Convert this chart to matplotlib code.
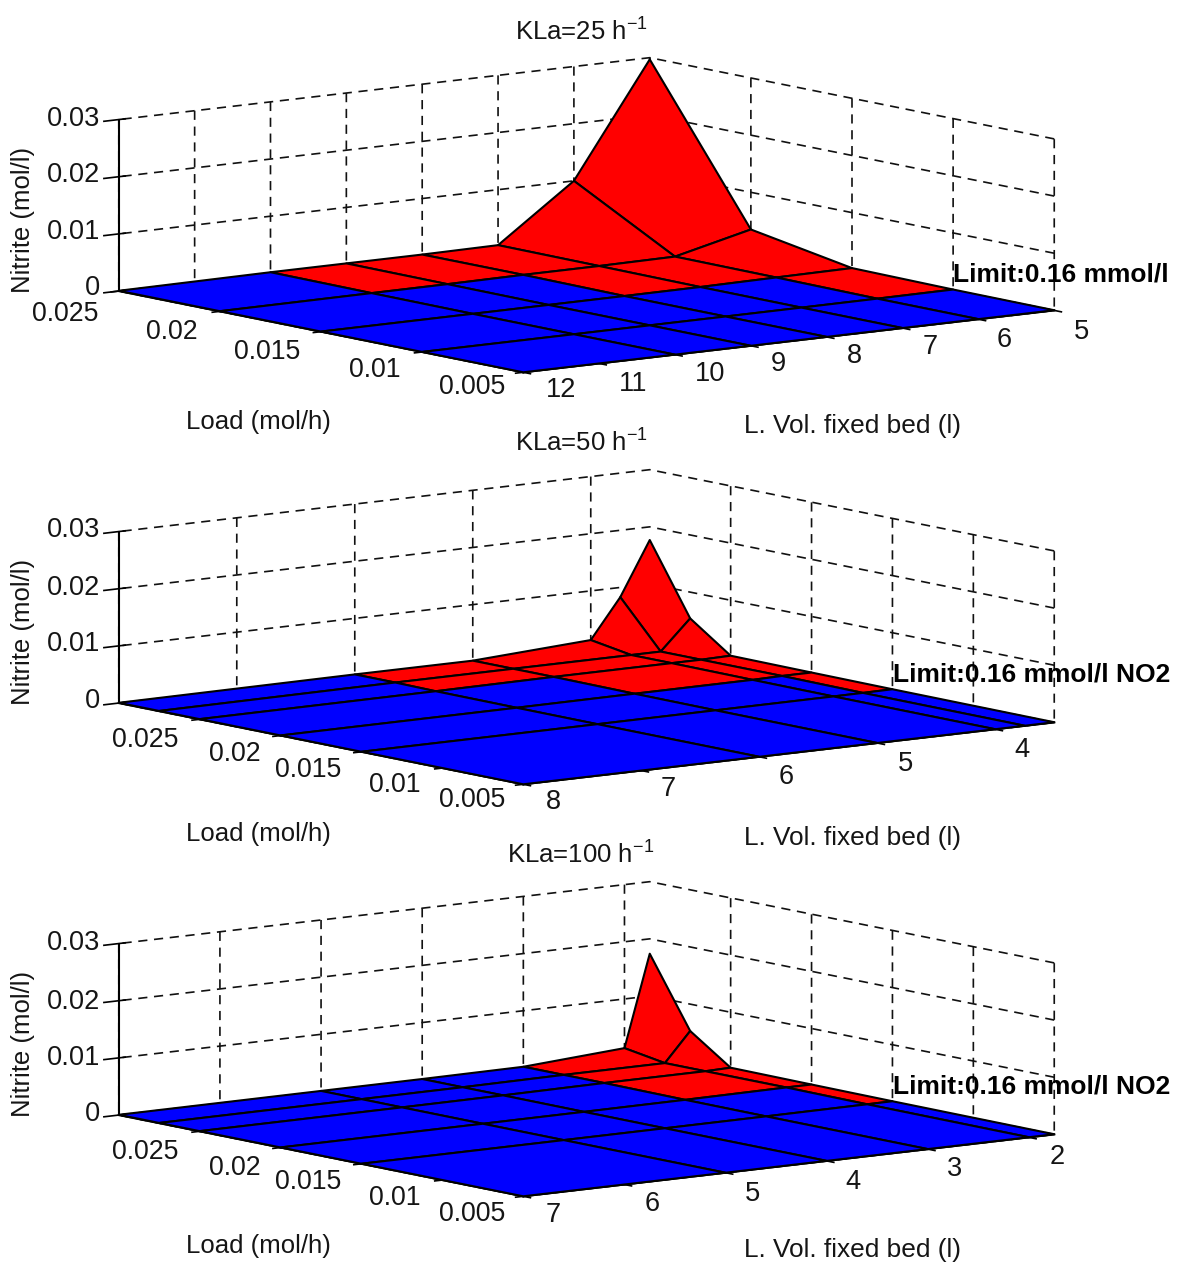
import numpy as np
import matplotlib
matplotlib.use("Agg")
import matplotlib.pyplot as plt

W = 1181
H = 1264
plt.rcParams['font.family'] = ['Liberation Sans', 'DejaVu Sans']
plt.rcParams['mathtext.default'] = 'regular'
plt.rcParams['grid.color'] = '#111111'
plt.rcParams['grid.linewidth'] = 1.2
plt.rcParams['grid.linestyle'] = (0, (5.5, 4))
plt.rcParams['axes.linewidth'] = 1.5
plt.rcParams['xtick.major.width'] = 1.2
plt.rcParams['ytick.major.width'] = 1.2

LIMIT = 0.00016   # 0.16 mmol/l
z_ticks = [0, 0.01, 0.02, 0.03]
z_labels = ['0', '0.01', '0.02', '0.03']
load_labels = ['0.025', '0.02', '0.015', '0.01', '0.005']
load_ticks = [0.025, 0.02, 0.015, 0.01, 0.005]

# KLa = 25
load_1 = [0.025, 0.02, 0.015, 0.01, 0.005]
vol_1 = [12, 10, 9, 8, 7, 6, 5]
nitrite_1 = [
    [0.00005, 0.0002, 0.0002, 0.0002, 0.0003, 0.0100, 0.0297],
    [0.00003, 0.0001, 0.00012, 0.0002, 0.0002, 0.0003, 0.0035],
    [0.00002, 0.00003, 0.00004, 0.00005, 0.00008, 0.0002, 0.0003],
    [0.00001, 0.00001, 0.00002, 0.00002, 0.00003, 0.00005, 0.0001],
    [0.0, 0.0, 0.0, 0.00001, 0.00001, 0.00002, 0.00003],
]
vol_ticks_1 = [12, 11, 10, 9, 8, 7, 6, 5]

# KLa = 50
load_2 = [0.03, 0.0275, 0.025, 0.02, 0.015, 0.005]
vol_2 = [8, 6, 5, 4, 3.75, 3.5]
nitrite_2 = [
    [0.00005, 0.0002, 0.0002, 0.0014, 0.0083, 0.0177],
    [0.00004, 0.0002, 0.0002, 0.0002, 0.0002, 0.0054],
    [0.00003, 0.0001, 0.0002, 0.0002, 0.0002, 0.0003],
    [0.00002, 0.00005, 0.0001, 0.00012, 0.0002, 0.0002],
    [0.00001, 0.00002, 0.00004, 0.00006, 0.00008, 0.00012],
    [0.0, 0.0, 0.00001, 0.00001, 0.00002, 0.00003],
]
vol_ticks_2 = [8, 7, 6, 5, 4]

# KLa = 100
load_3 = [0.03, 0.0275, 0.025, 0.02, 0.015, 0.005]
vol_3 = [7, 5, 4, 3, 2, 1.75]
nitrite_3 = [
    [0.00005, 0.0001, 0.00012, 0.0002, 0.0014, 0.0174],
    [0.00004, 0.00008, 0.0001, 0.0002, 0.0002, 0.0053],
    [0.00003, 0.00006, 0.0001, 0.0002, 0.0002, 0.0003],
    [0.00002, 0.00004, 0.00006, 0.0001, 0.0002, 0.0002],
    [0.00001, 0.00002, 0.00003, 0.00005, 0.0001, 0.00012],
    [0.0, 0.0, 0.00001, 0.00001, 0.00002, 0.00003],
]
vol_ticks_3 = [7, 6, 5, 4, 3, 2]

fig = plt.figure(figsize=(W / 100, H / 100), dpi=100)


def label(x, y, s, **kw):
    kw.setdefault('fontsize', 18.5)
    kw.setdefault('ha', 'center')
    kw.setdefault('va', 'center')
    kw.setdefault('color', '#151515')
    fig.text(x / W, 1 - (y + 2) / H, s, **kw)


def panel(cx, cy, load, vol, nitrite, vol_ticks, load_lim, vol_lim):
    S = 1172
    ax = fig.add_axes([(cx - 0.5135 * S) / W, (H - cy - 0.5135 * S) / H, S / W, S / H],
                      projection='3d')
    ax.set_proj_type('ortho')
    ax.view_init(elev=8.8, azim=142.7)
    ax.set_box_aspect((1, 1, 0.26), zoom=0.795)
    ax.patch.set_visible(False)
    for a in (ax.xaxis, ax.yaxis, ax.zaxis):
        a.pane.set_facecolor((1, 1, 1, 0))
        a.pane.set_edgecolor((1, 1, 1, 0))
    # short tick marks, the z axis sits on the left corner
    ax.xaxis._axinfo['tick'].update(inward_factor=0.18, outward_factor=0.0)
    ax.yaxis._axinfo['tick'].update(inward_factor=0.22, outward_factor=0.0)
    ax.zaxis._axinfo['tick'].update(inward_factor=0.35, outward_factor=0.15)
    ax.zaxis.set_ticks_position('upper')

    X, Y = np.meshgrid(load, vol, indexing='ij')
    Z = np.array(nitrite)
    colors = np.where(Z[..., None] > LIMIT, [1.0, 0.0, 0.0, 1.0], [0.0, 0.0, 1.0, 1.0])
    surf = ax.plot_surface(X, Y, Z, facecolors=colors, rstride=1, cstride=1,
                           shade=False, linewidth=1.5)
    surf.set_edgecolor('k')

    ax.set_xlim(*load_lim)
    ax.set_ylim(*vol_lim)
    ax.set_zlim(0, 0.03)
    ax.set_xticks(load_ticks)
    ax.set_yticks(vol_ticks)
    ax.set_zticks(z_ticks)
    ax.set_xticklabels([''] * len(load_ticks))
    ax.set_yticklabels([''] * len(vol_ticks))
    ax.set_zticklabels([''] * len(z_ticks))
    return ax


panel(586.5, 215, load_1, vol_1, nitrite_1, vol_ticks_1, (0.005, 0.025), (5, 12))
panel(586.5, 627, load_2, vol_2, nitrite_2, vol_ticks_2, (0.005, 0.03), (3.5, 8))
panel(586.5, 1039, load_3, vol_3, nitrite_3, vol_ticks_3, (0.005, 0.03), (1.75, 7))

# titles
label(581, 30, 'KLa=25 h$^{-1}$')
label(581, 441, 'KLa=50 h$^{-1}$')
label(581, 853, 'KLa=100 h$^{-1}$')

# axis names
for y in (420, 832, 1244):
    label(258, y, 'Load (mol/h)')
for y in (424, 836, 1248):
    label(853, y, 'L. Vol. fixed bed (l)', fontsize=18.9)
for y in (218, 630, 1042):
    label(23, y, 'Nitrite (mol/l)', rotation=90)

# z tick labels
for ys in ((286, 230, 173, 117), (699, 642, 586, 528), (1112, 1056, 1000, 941)):
    for y, s in zip(ys, z_labels):
        label(100, y, s, ha='right', fontsize=19.6)

# load tick labels, the original has them slightly uneven
for xs, ys in (((65, 172, 267, 375, 472), (312, 330, 350, 368, 385)),
               ((145, 235, 308, 395, 472), (738, 752, 768, 783, 798)),
               ((145, 235, 308, 395, 472), (1150, 1166, 1180, 1196, 1212))):
    for x, y, s in zip(xs, ys, load_labels):
        label(x, y, s, fontsize=19.2)

# volume tick labels
for x, y, v in zip((561, 633, 710, 778, 854, 930, 1004, 1081),
                   (388, 382, 372, 362, 354, 345, 338, 330), vol_ticks_1):
    label(x, y, str(v), fontsize=19.6)
for x, y, v in zip((553, 668, 786, 905, 1022), (800, 787, 775, 762, 748), vol_ticks_2):
    label(x, y, str(v), fontsize=19.6)
for x, y, v in zip((553, 652, 752, 853, 955, 1057),
                   (1213, 1202, 1192, 1180, 1167, 1155), vol_ticks_3):
    label(x, y, str(v), fontsize=19.6)

# limit notes
label(953, 272, 'Limit:0.16 mmol/l', ha='left', fontweight='bold', fontsize=19, color='k')
label(893, 672, 'Limit:0.16 mmol/l NO2', ha='left', fontweight='bold', fontsize=19, color='k')
label(893, 1085, 'Limit:0.16 mmol/l NO2', ha='left', fontweight='bold', fontsize=19, color='k')

fig.savefig('out.png', dpi=100)
